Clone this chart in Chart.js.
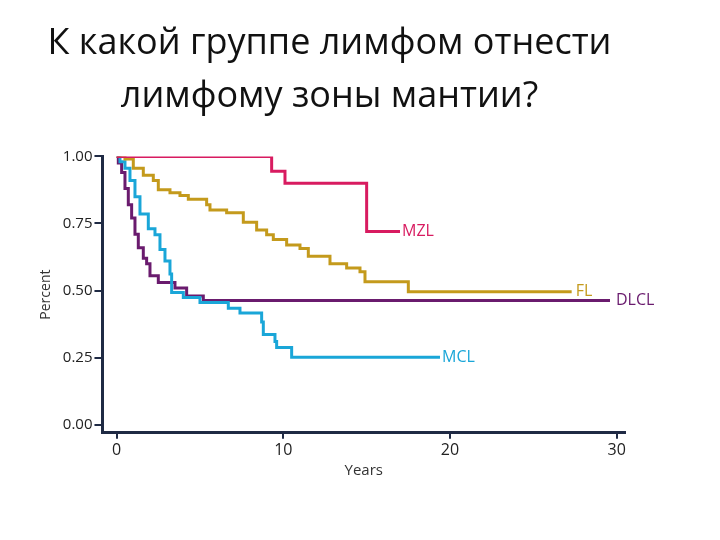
<!DOCTYPE html>
<html><head><meta charset="utf-8">
<script src="https://cdn.jsdelivr.net/npm/chart.js@4"></script>
<style>html,body{margin:0;padding:0;background:#fff}#w{width:720px;height:540px}</style>
</head><body><div id="w"><canvas id="c"></canvas></div>
<script>
const mzlX=[0,9.3,10.1,15.0,17.0];
const mzlY=[1.0,0.945,0.90,0.72,0.72];
const flX=[0,0.5,1.0,1.6,2.2,2.5,3.2,3.8,4.3,5.4,5.6,6.6,7.6,8.4,9.0,9.4,10.2,11.0,11.5,12.8,13.8,14.6,14.9,17.5,27.3];
const flY=[1.0,0.99,0.956,0.93,0.91,0.876,0.865,0.854,0.84,0.82,0.80,0.79,0.755,0.726,0.708,0.69,0.67,0.657,0.628,0.60,0.584,0.57,0.533,0.496,0.496];
const dlX=[0,0.1,0.3,0.5,0.7,0.9,1.1,1.3,1.6,1.8,2.0,2.5,3.5,4.2,5.2,29.6];
const dlY=[1.0,0.975,0.94,0.88,0.82,0.77,0.71,0.66,0.62,0.60,0.555,0.53,0.51,0.48,0.463,0.463];
const mclX=[0,0.2,0.5,0.8,1.1,1.4,1.9,2.3,2.6,2.9,3.2,3.3,4.0,5.0,6.7,7.4,8.7,8.8,9.5,9.6,10.5,19.4];
const mclY=[1.0,0.98,0.956,0.91,0.85,0.785,0.73,0.708,0.653,0.61,0.562,0.493,0.474,0.456,0.434,0.416,0.383,0.336,0.31,0.288,0.252,0.252];
const yTicks=[0,0.25,0.5,0.75,1.0];
const xTicks=[0,10,20,30];
const labels=[{t:'MZL',x:17.0,y:0.72,c:'#d81b60',dx:2},{t:'FL',x:27.3,y:0.496,c:'#c49a1c',dx:4},{t:'DLCL',x:29.6,y:0.463,c:'#6a1b6e',dx:6},{t:'MCL',x:19.4,y:0.252,c:'#1aa6d8',dx:2}];
const pts=(xs,ys)=>xs.map((x,i)=>({x:x,y:ys[i]}));
const ds=(xs,ys,c)=>({data:pts(xs,ys),borderColor:c,borderWidth:3,pointRadius:0,stepped:true,fill:false});
const lbl={id:'lbl',afterDatasetsDraw(ch){const g=ch.ctx,xs=ch.scales.x,ys=ch.scales.y;g.save();g.font='16px "Open Sans"';g.textBaseline='middle';
labels.forEach(l=>{g.fillStyle=l.c;g.fillText(l.t,xs.getPixelForValue(l.x)+l.dx,ys.getPixelForValue(l.y));});g.restore();}};
new Chart(document.getElementById('c'),{type:'line',
data:{datasets:[ds(mzlX,mzlY,'#d81b60'),ds(flX,flY,'#c49a1c'),ds(mclX,mclY,'#1aa6d8'),ds(dlX,dlY,'#6a1b6e')]},
options:{responsive:true,maintainAspectRatio:false,animation:false,
layout:{padding:{left:34,right:95,top:0,bottom:56}},
plugins:{legend:{display:false},tooltip:{enabled:false},
title:{display:true,text:['К какой группе лимфом отнести','лимфому зоны мантии?'],color:'#111',font:{size:36,family:'"Open Sans"',weight:'normal',lineHeight:1.45},padding:{top:18,bottom:34}}},
scales:{
x:{type:'linear',min:-0.85,max:30.5,afterBuildTicks:a=>{a.ticks=xTicks.map(v=>({value:v}));},
border:{color:'#1f2a44',width:3},grid:{drawOnChartArea:false,color:'#1f2a44',tickLength:6,lineWidth:2},
ticks:{color:'#222',font:{size:16,family:'"Open Sans"'},padding:2},
title:{display:true,text:'Years',color:'#333',font:{size:15,family:'"Open Sans"'},padding:{top:0}}},
y:{min:-0.03,max:1.0,afterBuildTicks:a=>{a.ticks=yTicks.map(v=>({value:v}));},
border:{color:'#1f2a44',width:3},grid:{drawOnChartArea:false,color:'#1f2a44',tickLength:8,lineWidth:2},
ticks:{color:'#222',font:{size:15,family:'"Open Sans"'},padding:2,callback:v=>v.toFixed(2)},
title:{display:true,text:'Percent',color:'#333',font:{size:14,family:'"Open Sans"'},padding:{bottom:6}}}}},
plugins:[lbl]});
</script></body></html>
